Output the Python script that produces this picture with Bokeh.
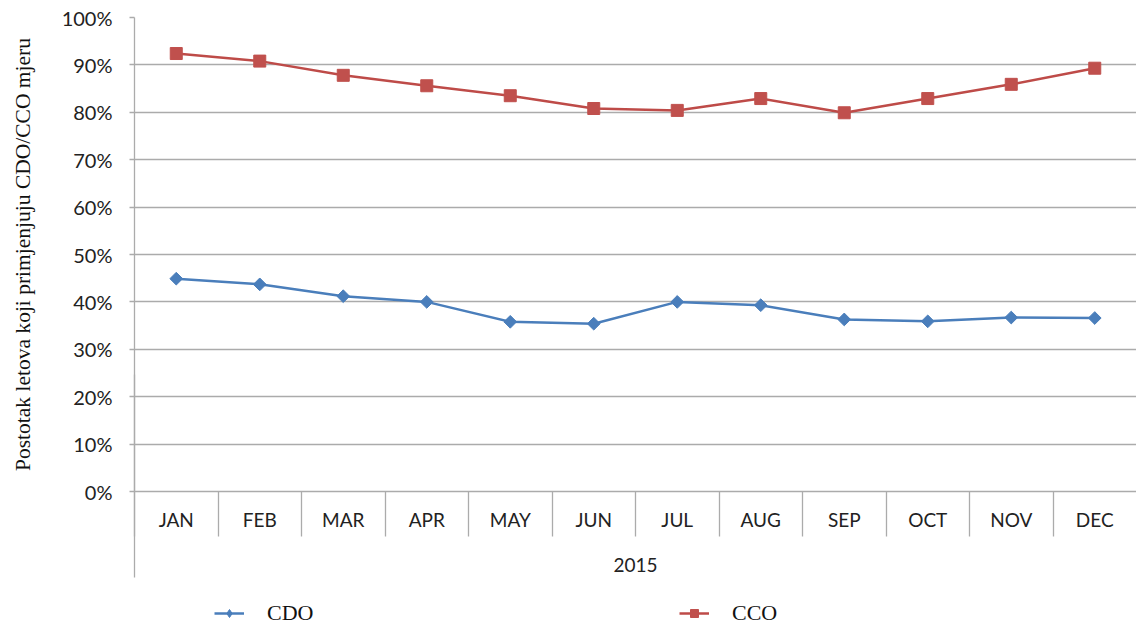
from bokeh.plotting import figure
from bokeh.layouts import column
from bokeh.models import (Range1d, FixedTicker, LinearAxis, PrintfTickFormatter,
                          Legend, LegendItem, ColumnDataSource)
from bokeh.embed import file_html
from bokeh.resources import INLINE
import math

# ---- data ----
months = ["JAN", "FEB", "MAR", "APR", "MAY", "JUN", "JUL", "AUG", "SEP", "OCT", "NOV", "DEC"]
cdo = [44.9, 43.7, 41.2, 40.0, 35.8, 35.4, 40.0, 39.3, 36.3, 35.9, 36.7, 36.6]
cco = [92.4, 90.8, 87.8, 85.6, 83.5, 80.8, 80.4, 82.9, 79.9, 82.9, 85.9, 89.3]
series_names = ["CDO", "CCO"]
year_label = "2015"
y_title = "Postotak letova koji primjenjuju CDO/CCO mjeru"
y_ticks = [0, 10, 20, 30, 40, 50, 60, 70, 80, 90, 100]

xpos = [i + 0.5 for i in range(len(months))]
src = ColumnDataSource(dict(x=xpos, cdo=cdo, cco=cco))

GRID = "#ABABAB"
TXT = "#222222"
BLUE = "#4A7EBB"
RED = "#BE4B48"
RED_M = "#C0504D"
TICKFONT = "Lato"

p = figure(width=1136, height=601, output_backend="svg", toolbar_location=None,
           x_range=Range1d(0, len(months)), y_range=Range1d(0, 100),
           min_border_left=134, min_border_top=17, min_border_right=0,
           min_border_bottom=110)
p.outline_line_color = None
p.xgrid.grid_line_color = None
p.ygrid.grid_line_color = GRID
p.ygrid.grid_line_width = 1.3
p.ygrid.ticker = FixedTicker(ticks=y_ticks)

# y axis
ya = p.yaxis[0]
ya.ticker = FixedTicker(ticks=y_ticks)
ya.formatter = PrintfTickFormatter(format="%d%%")
ya.axis_line_color = GRID
ya.axis_line_width = 1.3
ya.major_tick_line_color = GRID
ya.major_tick_line_width = 1.3
ya.major_tick_out = 5
ya.major_tick_in = 0
ya.minor_tick_line_color = None
ya.minor_tick_out = 0
ya.minor_tick_in = 0
ya.major_label_standoff = 17
ya.major_label_text_font = TICKFONT
ya.major_label_text_font_size = "20px"
ya.major_label_text_color = TXT
ya.axis_label = y_title
ya.axis_label_text_font = "Liberation Serif"
ya.axis_label_text_font_style = "normal"
ya.axis_label_text_font_size = "21.5px"
ya.axis_label_text_color = "#111111"
ya.axis_label_standoff = 24

# x axis (months + year)
xa = p.xaxis[0]
xa.ticker = FixedTicker(ticks=xpos, minor_ticks=list(range(len(months))))
xa.major_label_overrides = {x: m for x, m in zip(xpos, months)}
xa.axis_line_color = GRID
xa.axis_line_width = 1.3
xa.major_tick_line_color = None
xa.major_tick_out = 0
xa.major_tick_in = 0
xa.minor_tick_line_color = GRID
xa.minor_tick_line_width = 1.3
xa.minor_tick_out = 45
xa.minor_tick_in = 0
xa.major_label_standoff = -29
xa.major_label_text_font = TICKFONT
xa.major_label_text_font_size = "19px"
xa.major_label_text_color = TXT
xa.axis_label = year_label
xa.axis_label_text_font = TICKFONT
xa.axis_label_text_font_style = "normal"
xa.axis_label_text_font_size = "19px"
xa.axis_label_text_color = TXT
xa.axis_label_standoff = 24

# extension of the left boundary line below the category labels
xa2 = LinearAxis(ticker=FixedTicker(ticks=[0], minor_ticks=[]), axis_line_color=None,
                 major_tick_line_color=GRID, major_tick_line_width=1.3,
                 major_tick_in=200, major_tick_out=3, minor_tick_line_color=None,
                 minor_tick_in=0, minor_tick_out=0,
                 major_label_standoff=0, major_label_text_font_size="0px",
                 major_label_overrides={0: ""})
p.add_layout(xa2, "below")

# series
p.line("x", "cdo", source=src, line_color=BLUE, line_width=2.5)
p.scatter("x", "cdo", source=src, marker="square", angle=math.pi / 4, size=9,
          fill_color=BLUE, line_color=BLUE)
p.line("x", "cco", source=src, line_color=RED, line_width=2.5)
p.scatter("x", "cco", source=src, marker="square", size=12,
          fill_color=RED_M, line_color=RED_M)

# ---- legend strip below the chart ----
pl = figure(width=1136, height=24, output_backend="svg", toolbar_location=None,
            x_range=Range1d(0, len(months)), y_range=Range1d(0, 100),
            x_axis_location=None, y_axis_location=None,
            min_border_left=0, min_border_right=0, min_border_top=0, min_border_bottom=0)
pl.outline_line_color = None
pl.xgrid.visible = False
pl.ygrid.visible = False
g1 = pl.line("x", "cdo", source=src, line_color=BLUE, line_width=2.5, visible=False)
s1 = pl.scatter("x", "cdo", source=src, marker="diamond", size=13,
                fill_color=BLUE, line_color=BLUE, visible=False)
g2 = pl.line("x", "cco", source=src, line_color=RED, line_width=2.5, visible=False)
s2 = pl.scatter("x", "cco", source=src, marker="square", size=12,
                fill_color=RED_M, line_color=RED_M, visible=False)

legend = Legend(items=[LegendItem(label=series_names[0], renderers=[g1, s1]),
                       LegendItem(label=series_names[1], renderers=[g2, s2])],
                orientation="horizontal", location=(80, -1),
                label_text_font="Liberation Serif", label_text_font_size="22px",
                label_text_color="#111111", glyph_width=30, glyph_height=20,
                label_standoff=23, label_width=50, spacing=362, padding=0, margin=0,
                border_line_color=None, background_fill_alpha=0,
                inactive_fill_alpha=0)
pl.add_layout(legend, "center")

open("out.html", "w").write(file_html(column(p, pl, spacing=0), INLINE))
